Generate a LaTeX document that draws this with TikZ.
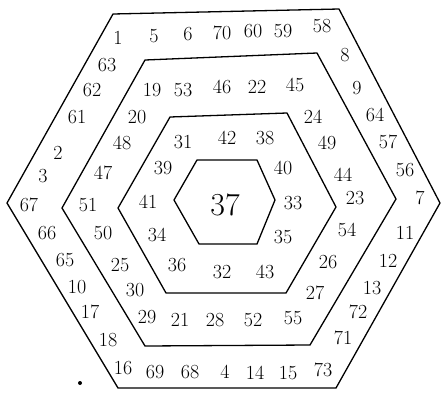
\documentclass[tikz,border=0pt]{standalone}
\begin{document}
\begin{tikzpicture}[x=1pt,y=-1pt,
  hexline/.style={line width=1.3pt,line join=miter},
  num/.style={inner sep=0pt,font=\fontsize{20}{20}\selectfont},
  bignum/.style={inner sep=0pt,font=\fontsize{32}{32}\selectfont}]
\useasboundingbox (0,0) rectangle (442,394);
% hexagons
\draw[hexline] (113,14) -- (339,9) -- (440,203) -- (336,388) -- (118,388) -- (7,203) -- cycle;
\draw[hexline] (145,60) -- (317,53) -- (396,199) -- (310,345) -- (145,346) -- (62,208) -- cycle;
\draw[hexline] (170,117) -- (287,113) -- (336,207) -- (286,293) -- (166,293) -- (118,208) -- cycle;
\draw[hexline] (197,160) -- (257,160) -- (275,200) -- (257,244) -- (199,244) -- (174,200) -- cycle;
% numbers
\foreach \x/\y/\t in {
 118/38/1, 154/36/5, 188/34/6, 222/33/70, 253/31/60, 283/31/59, 322/26/58,
 345/55/8, 357/88/9, 375/115/64, 388/142/57, 405/170/56, 420/198/7,
 405/233/11, 388/261/12, 372/288/13, 358/312/72, 343/338/71, 323/370/73,
 288/373/15, 255/373/14, 225/372/4, 190/372/68, 155/372/69, 123/368/16,
 108/340/18, 90/312/17, 77/287/10, 65/260/65, 47/233/66, 29/205/67,
 43/176/3, 58/153/2, 77/117/61, 92/90/62, 107/65/63,
 152/90/19, 183/90/53, 222/87/46, 257/87/22, 295/85/45,
 313/117/24, 327/143/49, 343/175/44, 355/198/23, 347/230/54, 328/262/26,
 315/293/27, 293/318/55, 253/320/52, 215/320/28, 180/320/21, 147/317/29,
 135/290/30, 120/265/25, 103/233/50, 88/205/51, 103/173/47, 122/143/48, 137/117/20,
 183/142/31, 227/138/42, 265/138/38, 283/168/40, 293/203/33, 283/237/35,
 265/272/43, 222/272/32, 177/265/36, 157/235/34, 148/202/41, 163/168/39}
  \node[num] (n\t) at (\x,\y) {\t};
\node[bignum] (n37) at (225,205) {37};
\fill (80,383) circle (2pt);
\end{tikzpicture}
\end{document}
